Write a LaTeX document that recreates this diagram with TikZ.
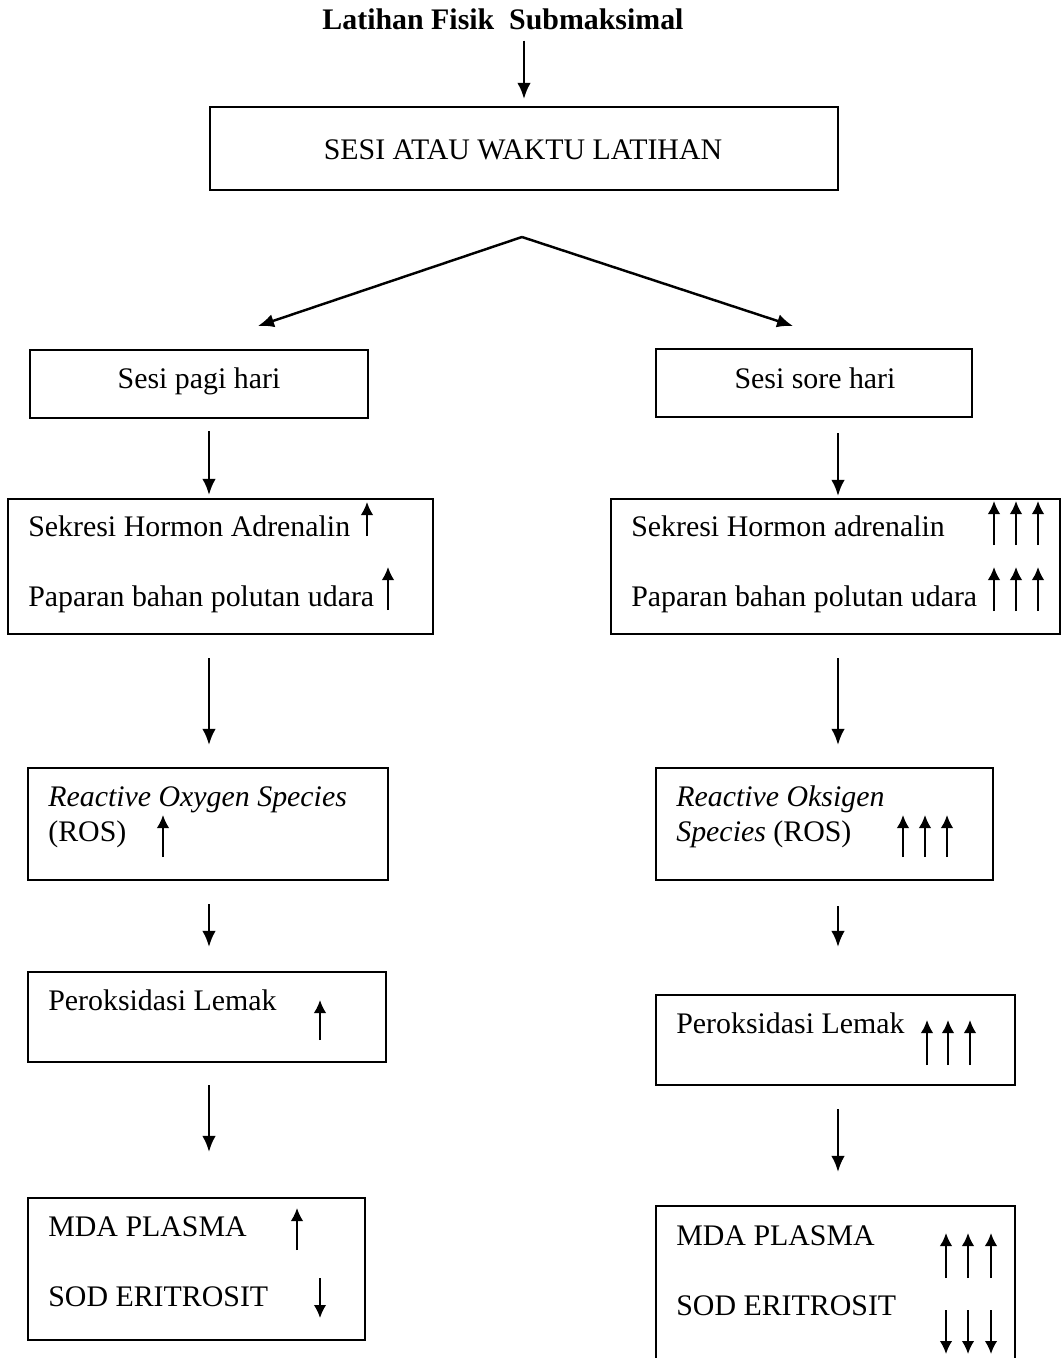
\documentclass[tikz,border=0pt]{standalone}
\usepackage{fontspec}
\setmainfont{Liberation Serif}
\usetikzlibrary{arrows.meta,fit}

\tikzset{
  kotak/.style={draw, line width=1.2pt, inner sep=0pt},
  teks/.style={anchor=base west, inner sep=0pt, font=\fontsize{17}{20}\selectfont},
  panah/.style={-{Latex[length=0.32cm,width=0.27cm]}, line width=1.4pt},
  naik/.style={-{Latex[length=0.26cm,width=0.25cm]}, line width=1.1pt},
}

\begin{document}
\begin{tikzpicture}[x=0.02cm,y=-0.02cm]
  \useasboundingbox (0,0) rectangle (1062,1358);

  % judul dan sesi
  \node[teks, anchor=base, font=\bfseries\fontsize{17}{20}\selectfont] (judul) at (503,30) {Latihan Fisik\ \ Submaksimal};
  \node[kotak, fit={(210,107) (838,190)}] (sesi) {};
  \node[teks, anchor=base] (tSesi) at (523,160) {SESI ATAU WAKTU LATIHAN};
  \draw[panah, shorten <=0.2cm, shorten >=0.14cm] (judul.south -| sesi.north) -- (sesi.north);

  \coordinate (cabang) at (522,237);
  \coordinate (keKiri) at (258,326);
  \coordinate (keKanan) at (793,326);
  \draw[panah] (cabang) -- (keKiri);
  \draw[panah] (cabang) -- (keKanan);

  \coordinate (sumbuKiri) at (209,0);
  \coordinate (sumbuKanan) at (838,0);

  % kolom pagi
  \node[kotak, fit={(30,350) (368,418)}] (pagi) {};
  \node[teks, anchor=base] (tPagi) at (199,388) {Sesi pagi hari};

  \node[kotak, fit={(8,499) (433,634)}] (sekKiri) {};
  \node[teks] (tSekKiri1) at (28,536) {Sekresi Hormon Adrenalin};
  \node[teks] (tSekKiri2) at (28,606) {Paparan bahan polutan udara};
  \draw[naik] (367,536) -- (367,502);
  \draw[naik] (388,610) -- (388,567);

  \node[kotak, fit={(28,768) (388,880)}] (rosKiri) {};
  \node[teks] (tRosKiri1) at (48,806) {\itshape Reactive Oxygen Species};
  \node[teks] (tRosKiri2) at (48,841) {(ROS)};
  \draw[naik] (163,857) -- (163,815);

  \node[kotak, fit={(28,972) (386,1062)}] (perKiri) {};
  \node[teks] (tPerKiri) at (48,1010) {Peroksidasi Lemak};
  \draw[naik] (320,1040) -- (320,1000);

  \node[kotak, fit={(28,1198) (365,1340)}] (mdaKiri) {};
  \node[teks] (tMdaKiri1) at (48,1236) {MDA PLASMA};
  \node[teks] (tMdaKiri2) at (48,1306) {SOD ERITROSIT};
  \draw[naik] (297,1250) -- (297,1208);
  \draw[naik] (320,1278) -- (320,1318);

  \draw[panah, shorten <=0.24cm, shorten >=0.06cm] (pagi.south -| sumbuKiri) -- (sekKiri.north -| sumbuKiri);
  \draw[panah, shorten <=0.46cm, shorten >=0.44cm] (sekKiri.south -| sumbuKiri) -- (rosKiri.north -| sumbuKiri);
  \draw[panah, shorten <=0.46cm, shorten >=0.48cm] (rosKiri.south -| sumbuKiri) -- (perKiri.north -| sumbuKiri);
  \draw[panah, shorten <=0.44cm, shorten >=0.9cm] (perKiri.south -| sumbuKiri) -- (mdaKiri.north -| sumbuKiri);

  % kolom sore
  \node[kotak, fit={(656,349) (972,417)}] (sore) {};
  \node[teks, anchor=base] (tSore) at (815,388) {Sesi sore hari};

  \node[kotak, fit={(611,499) (1060,634)}] (sekKanan) {};
  \node[teks] (tSekKanan1) at (631,536) {Sekresi Hormon adrenalin};
  \node[teks] (tSekKanan2) at (631,606) {Paparan bahan polutan udara};
  \foreach \x in {994,1016,1038} {
    \draw[naik] (\x,545) -- (\x,501);
    \draw[naik] (\x,611) -- (\x,567);
  }

  \node[kotak, fit={(656,768) (993,880)}] (rosKanan) {};
  \node[teks] (tRosKanan1) at (676,806) {\itshape Reactive Oksigen};
  \node[teks] (tRosKanan2) at (676,841) {\textit{Species} (ROS)};
  \foreach \x in {903,925,947}
    \draw[naik] (\x,857) -- (\x,815);

  \node[kotak, fit={(656,995) (1015,1085)}] (perKanan) {};
  \node[teks] (tPerKanan) at (676,1033) {Peroksidasi Lemak};
  \foreach \x in {927,948,970}
    \draw[naik] (\x,1065) -- (\x,1020);

  \node[kotak, fit={(656,1206) (1015,1375)}] (mdaKanan) {};
  \node[teks] (tMdaKanan1) at (676,1245) {MDA PLASMA};
  \node[teks] (tMdaKanan2) at (676,1315) {SOD ERITROSIT};
  \foreach \x in {946,968,991} {
    \draw[naik] (\x,1278) -- (\x,1233);
    \draw[naik] (\x,1310) -- (\x,1354);
  }

  \draw[panah, shorten <=0.3cm, shorten >=0.04cm] (sore.south -| sumbuKanan) -- (sekKanan.north -| sumbuKanan);
  \draw[panah, shorten <=0.46cm, shorten >=0.44cm] (sekKanan.south -| sumbuKanan) -- (rosKanan.north -| sumbuKanan);
  \draw[panah, shorten <=0.5cm, shorten >=0.94cm] (rosKanan.south -| sumbuKanan) -- (perKanan.north -| sumbuKanan);
  \draw[panah, shorten <=0.46cm, shorten >=0.66cm] (perKanan.south -| sumbuKanan) -- (mdaKanan.north -| sumbuKanan);
\end{tikzpicture}
\end{document}
